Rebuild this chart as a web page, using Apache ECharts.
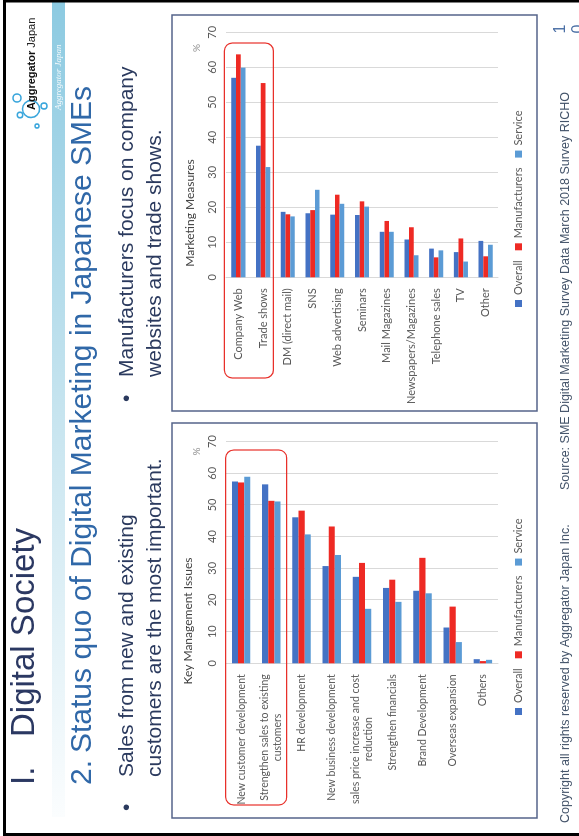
<!DOCTYPE html>
<html>
<head>
<meta charset="utf-8">
<script src="https://cdn.jsdelivr.net/npm/echarts@6/dist/echarts.min.js"></script>
<style>
html, body { margin: 0; padding: 0; width: 579px; height: 836px; overflow: hidden; background: #fff; }
/* the slide is drawn landscape, then turned a quarter left like the photo */
#slide { position: absolute; left: 0; top: 0; width: 836px; height: 579px;
  transform-origin: 0 0; transform: rotate(-90deg) translateX(-836px); }
</style>
</head>
<body>
<div id="slide"></div>
<script>
var seriesNames = ['Overall', 'Manufacturers', 'Service'];
var seriesColors = ['#4472C4', '#EE2A24', '#5B9BD5'];
var valueTicks = { min: 0, max: 70, step: 10 };

// Key Management Issues (left chart)
var issueCategories = ['New customer development', 'Strengthen sales to existing\ncustomers', 'HR development',
	'New business development', 'sales price increase and cost\nreduction', 'Strengthen financials',
	'Brand Development', 'Overseas expansion', 'Others'];
var issueOverall = [57.4, 56.5, 46.1, 30.7, 27.3, 23.8, 22.9, 11.3, 1.3];
var issueManufacturers = [57.1, 51.3, 48.2, 43.2, 31.7, 26.4, 33.3, 17.9, 0.7];
var issueService = [58.9, 51.1, 40.7, 34.2, 17.2, 19.4, 22.1, 6.7, 1.1];

// Marketing Measures (right chart)
var measureCategories = ['Company Web', 'Trade shows', 'DM (direct mail)', 'SNS', 'Web advertising', 'Seminars',
	'Mail Magazines', 'Newspapers/Magazines', 'Telephone sales', 'TV', 'Other'];
var measureOverall = [57.0, 37.6, 18.7, 18.3, 17.9, 17.8, 13.0, 10.8, 8.2, 7.2, 10.4];
var measureManufacturers = [63.7, 55.5, 18.0, 19.2, 23.6, 21.7, 16.1, 14.3, 5.7, 11.1, 6.0];
var measureService = [59.9, 31.5, 17.4, 25.0, 21.0, 20.2, 13.0, 6.3, 7.7, 4.5, 9.3];

var chartFont = 'Lato';
var slideFont = '"Liberation Sans", Arial, sans-serif';

var chart = echarts.init(document.getElementById('slide'));

function txt(x, y, text, font, color, align) {
	return {
		type: 'text', x: x, y: y, z: 50,
		style: { text: text, font: font, fill: color, align: align || 'left', verticalAlign: 'middle',
			textAlign: align || 'left', textVerticalAlign: 'middle' }
	};
}
function box(x, y, w, h, r, color, lw, z) {
	return { type: 'rect', z: z, shape: { x: x, y: y, width: w, height: h, r: r || 0 },
		style: { fill: 'none', stroke: color, lineWidth: lw } };
}
function bubble(cx, cy, r) {
	return { type: 'circle', z: 40, shape: { cx: cx, cy: cy, r: r },
		style: { fill: 'none', stroke: '#3aa6dc', lineWidth: 1.6 } };
}

// category label: lines centred inside the label block, like Excel
function catLabel(v) {
	return v.split('\n').map(function(s) { return '{c|' + s + '}'; }).join('\n');
}

function valueAxis(idx) {
	return {
		type: 'value', gridIndex: idx, position: 'top',
		min: valueTicks.min, max: valueTicks.max, interval: valueTicks.step,
		axisLine: { show: false }, axisTick: { show: false },
		axisLabel: { color: '#595959', fontFamily: chartFont, fontSize: 11, margin: 8 },
		splitLine: { lineStyle: { color: '#d9d9d9', width: 1 } }
	};
}
function catAxis(idx, cats, size) {
	return {
		type: 'category', gridIndex: idx, inverse: true, data: cats,
		axisLine: { lineStyle: { color: '#d9d9d9' } }, axisTick: { show: false },
		axisLabel: { interval: 0, margin: 11, formatter: catLabel, color: '#595959', fontFamily: chartFont, fontSize: size,
			rich: { c: { align: 'center', color: '#595959', fontFamily: chartFont, fontSize: size, lineHeight: 13 } } }
	};
}
function barSeries(idx, name, data, color, gap) {
	return {
		name: name, type: 'bar', xAxisIndex: idx, yAxisIndex: idx, data: data,
		barGap: '0%', barCategoryGap: gap,
		itemStyle: { color: color }
	};
}
function legendAt(left) {
	return {
		data: seriesNames, left: left, top: 513, padding: 0, itemGap: 10,
		itemWidth: 7, itemHeight: 7, icon: 'rect',
		textStyle: { color: '#595959', fontFamily: chartFont, fontSize: 11 }
	};
}

var band = new echarts.graphic.LinearGradient(0, 0, 1, 0, [
	{ offset: 0, color: '#fbfdfe' }, { offset: 0.5, color: '#c6e4ef' }, { offset: 1, color: '#8ccae1' }
]);

var option = {
	animation: false,
	backgroundColor: '#fff',
	grid: [
		{ left: 172.7, right: 441.6, top: 226, bottom: 81, outerBoundsMode: 'none' },
		{ left: 558.7, right: 32.3, top: 226, bottom: 81, outerBoundsMode: 'none' }
	],
	xAxis: [valueAxis(0), valueAxis(1)],
	yAxis: [catAxis(0, issueCategories, 10.5), catAxis(1, measureCategories, 11)],
	legend: [legendAt(121), legendAt(529)],
	series: [
		barSeries(0, seriesNames[0], issueOverall, seriesColors[0], '39%'),
		barSeries(0, seriesNames[1], issueManufacturers, seriesColors[1], '39%'),
		barSeries(0, seriesNames[2], issueService, seriesColors[2], '39%'),
		barSeries(1, seriesNames[0], measureOverall, seriesColors[0], '43%'),
		barSeries(1, seriesNames[1], measureManufacturers, seriesColors[1], '43%'),
		barSeries(1, seriesNames[2], measureService, seriesColors[2], '43%')
	],
	graphic: [
		// slide frame and header band
		box(1.5, 4.5, 833.5, 700, 0, '#000', 3, 60),
		{ type: 'rect', z: 1, shape: { x: 19, y: 52, width: 817, height: 13 }, style: { fill: band } },
		txt(726, 58.5, 'Aggregator Japan', 'italic 9px "Liberation Serif", serif', 'rgba(255,255,255,0.9)'),
		// logo
		bubble(738, 17, 4), bubble(727, 31, 8.5), bubble(730, 44, 3), bubble(721, 20, 2.8), bubble(710, 37, 2),
		{
			type: 'text', x: 726, y: 32, z: 50,
			style: { text: '{b|Aggregator}{n| Japan}', fill: '#111', verticalAlign: 'middle', textVerticalAlign: 'middle',
				rich: { b: { fontFamily: slideFont, fontSize: 11, fontWeight: 'bold', fill: '#111', color: '#111' },
					n: { fontFamily: slideFont, fontSize: 11, fill: '#111', color: '#111' } } }
		},
		// titles
		txt(51, 25, 'I.', '33px ' + slideFont, '#2b3862'),
		txt(99, 25, 'Digital Society', '33px ' + slideFont, '#2b3862'),
		txt(51, 83, '2.', '30px ' + slideFont, '#3068a8'),
		txt(83, 83, 'Status quo of Digital Marketing in Japanese SMEs', '30px ' + slideFont, '#3068a8'),
		// bullets
		txt(25, 127.6, '\u2022', '21px ' + slideFont, '#2b3a5e'),
		txt(59, 127.6, 'Sales from new and existing', '21px ' + slideFont, '#2b3a5e'),
		txt(59, 155.6, 'customers are the most important.', '21px ' + slideFont, '#2b3a5e'),
		txt(434, 127.6, '\u2022', '21px ' + slideFont, '#2b3a5e'),
		txt(459, 127.6, 'Manufacturers focus on company', '21px ' + slideFont, '#2b3a5e'),
		txt(459, 155.6, 'websites and trade shows.', '21px ' + slideFont, '#2b3a5e'),
		// chart frames, titles, unit marks
		box(18, 172, 395, 365, 0, '#55648a', 1.5, 5),
		box(425, 172, 396, 365, 0, '#55648a', 1.5, 5),
		txt(215, 188, 'Key Management Issues', '12px ' + chartFont, '#404040', 'center'),
		txt(623, 190, 'Marketing Measures', '12px ' + chartFont, '#404040', 'center'),
		txt(384.5, 196.5, '%', '10px ' + chartFont, '#8c8c8c', 'center'),
		txt(788, 196.5, '%', '10px ' + chartFont, '#8c8c8c', 'center'),
		// red highlight around the top two categories
		box(31, 225.7, 355, 61, 8, '#e8302a', 1.2, 70),
		box(458, 224.3, 335, 49, 8, '#e8302a', 1.2, 70),
		// footer
		txt(13, 566, 'Copyright all rights reserved by Aggregator Japan Inc.', '12.5px ' + slideFont, '#44546a'),
		txt(346, 566, 'Source: SME Digital Marketing Survey Data March 2018 Survey RICHO', '12.5px ' + slideFont, '#44546a'),
		txt(807, 561, '1', '16px ' + slideFont, '#4a6fa5', 'center'),
		txt(807, 579, '0', '16px ' + slideFont, '#4a6fa5', 'center')
	]
};
chart.setOption(option);
</script>
</body>
</html>
